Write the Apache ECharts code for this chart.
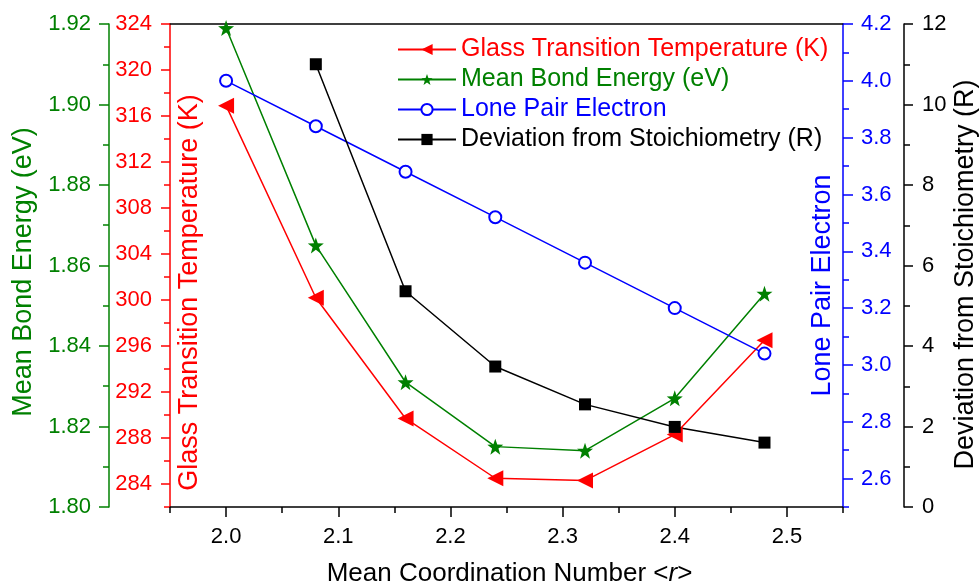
<!DOCTYPE html>
<html>
<head>
<meta charset="utf-8">
<title>Mean Coordination Number</title>
<script src="https://cdn.jsdelivr.net/npm/echarts@6/dist/echarts.min.js"></script>
<style>
  html, body { margin: 0; padding: 0; background: #fff; }
  #chart { width: 980px; height: 586px; }
</style>
</head>
<body>
<div id="chart"></div>
<script>
// data
var coordNum   = [2.00, 2.08, 2.16, 2.24, 2.32, 2.40, 2.48];
var tgValues   = [316.9, 300.2, 289.7, 284.5, 284.3, 288.3, 296.5];
var bondEnergy = [1.919, 1.865, 1.831, 1.815, 1.814, 1.827, 1.853];
var lonePair   = [4.00, 3.84, 3.68, 3.52, 3.36, 3.20, 3.04];
var deviation  = [null, 11.0, 5.36, 3.49, 2.55, 1.99, 1.60];

// tick positions
var xMajor   = [2.0, 2.1, 2.2, 2.3, 2.4, 2.5];
var xMinor   = [1.95, 2.05, 2.15, 2.25, 2.35, 2.45, 2.55];
var tgMajor  = [284, 288, 292, 296, 300, 304, 308, 312, 316, 320, 324];
var tgMinor  = [282, 286, 290, 294, 298, 302, 306, 310, 314, 318, 322];
var lpMajor  = [2.6, 2.8, 3.0, 3.2, 3.4, 3.6, 3.8, 4.0, 4.2];
var lpMinor  = [2.5, 2.7, 2.9, 3.1, 3.3, 3.5, 3.7, 3.9, 4.1];

var FONT = '"Liberation Sans", Arial, sans-serif';
var RED = '#ff0000', GREEN = '#008000', BLUE = '#0000ff', BLACK = '#000000';
var STAR = 'path://M0,-10L2.35,-3.24L9.51,-3.09L3.8,1.24L5.88,8.09L0,4L-5.88,8.09L-3.8,1.24L-9.51,-3.09L-2.35,-3.24Z';
var TICK_FS = 22, NAME_FS = 27;

function pairs(ys) {
    var out = [];
    for (var i = 0; i < coordNum.length; i++) {
        if (ys[i] !== null) out.push([coordNum[i], ys[i]]);
    }
    return out;
}

var chart = echarts.init(document.getElementById('chart'), null, { renderer: 'canvas' });

var option = {
    animation: false,
    backgroundColor: '#fff',
    grid: { left: 170, right: 137, top: 24, bottom: 79, containLabel: false, outerBoundsMode: 'none' },
    legend: {
        orient: 'vertical',
        left: 392, top: 32,
        itemWidth: 58, itemHeight: 14, itemGap: 5,
        textStyle: { fontFamily: FONT, fontSize: 25 },
        data: [
            { name: 'Glass Transition Temperature (K)', textStyle: { color: RED } },
            { name: 'Mean Bond Energy (eV)', textStyle: { color: GREEN } },
            { name: 'Lone Pair Electron', textStyle: { color: BLUE } },
            { name: 'Deviation from Stoichiometry (R)', textStyle: { color: BLACK } }
        ]
    },
    xAxis: [
        {
            type: 'value', position: 'bottom', min: 1.95, max: 2.55,
            name: 'Mean Coordination Number <{i|r}>',
            nameLocation: 'middle', nameGap: 54, nameMoveOverlap: false,
            nameTextStyle: { fontFamily: FONT, fontSize: 26, color: BLACK, padding: [0, 0, 0, 6],
                rich: { i: { fontFamily: FONT, fontSize: 26, fontStyle: 'italic', color: BLACK } } },
            axisLine: { onZero: false, lineStyle: { color: BLACK, width: 1.5 } },
            axisTick: { customValues: xMajor, length: 10, lineStyle: { color: BLACK, width: 1.5 } },
            axisLabel: { customValues: xMajor, margin: 19, fontFamily: FONT, fontSize: TICK_FS, color: BLACK,
                formatter: function (v) { return v.toFixed(1); } },
            splitLine: { show: false }
        },
        {
            type: 'value', position: 'bottom', min: 1.95, max: 2.55,
            axisLine: { show: false, onZero: false },
            axisTick: { customValues: xMinor, length: 6, lineStyle: { color: BLACK, width: 1.5 } },
            axisLabel: { show: false },
            splitLine: { show: false }
        },
        {
            type: 'value', position: 'top', min: 1.95, max: 2.55,
            axisLine: { onZero: false, lineStyle: { color: BLACK, width: 1.5 } },
            axisTick: { show: false }, axisLabel: { show: false },
            splitLine: { show: false }
        }
    ],
    yAxis: [
        {   // 0 mean bond energy
            type: 'value', position: 'left', offset: 61,
            min: 1.80, max: 1.92, interval: 0.02,
            name: 'Mean Bond Energy (eV)', nameLocation: 'middle', nameRotate: 90, nameGap: 72,
            nameMoveOverlap: false,
            nameTextStyle: { fontFamily: FONT, fontSize: NAME_FS, color: GREEN, padding: [0, 13, 0, 0] },
            axisLine: { onZero: false, lineStyle: { color: GREEN, width: 1.5 } },
            axisTick: { length: 10, lineStyle: { color: GREEN, width: 1.5 } },
            minorTick: { show: true, splitNumber: 2, length: 6, lineStyle: { color: GREEN, width: 1.5 } },
            axisLabel: { margin: 18, fontFamily: FONT, fontSize: TICK_FS, color: GREEN,
                formatter: function (v) { return v.toFixed(2); } },
            splitLine: { show: false }
        },
        {   // 1 glass transition temperature
            type: 'value', position: 'left', offset: 0, min: 282, max: 324,
            name: 'Glass Transition Temperature (K)', nameLocation: 'middle', nameRotate: 90, nameGap: -33,
            nameMoveOverlap: false,
            nameTextStyle: { fontFamily: FONT, fontSize: NAME_FS, color: RED, padding: [0, 54, 0, 0] },
            axisLine: { onZero: false, lineStyle: { color: RED, width: 1.5 } },
            axisTick: { customValues: tgMajor, length: 9, lineStyle: { color: RED, width: 1.5 } },
            axisLabel: { customValues: tgMajor, margin: 18, fontFamily: FONT, fontSize: TICK_FS, color: RED },
            splitLine: { show: false }
        },
        {   // 2 tg minor ticks
            type: 'value', position: 'left', offset: 0, min: 282, max: 324,
            axisLine: { show: false, onZero: false },
            axisTick: { customValues: tgMinor, length: 6, lineStyle: { color: RED, width: 1.5 } },
            axisLabel: { show: false }, splitLine: { show: false }
        },
        {   // 3 lone pair electron
            type: 'value', position: 'right', offset: 0, min: 2.5, max: 4.2,
            name: 'Lone Pair Electron', nameLocation: 'middle', nameRotate: 90, nameGap: -34,
            nameMoveOverlap: false,
            nameTextStyle: { fontFamily: FONT, fontSize: NAME_FS, color: BLUE, padding: [0, 40, 0, 0] },
            axisLine: { onZero: false, lineStyle: { color: BLUE, width: 1.5 } },
            axisTick: { customValues: lpMajor, length: 10, lineStyle: { color: BLUE, width: 1.5 } },
            axisLabel: { customValues: lpMajor, margin: 18, fontFamily: FONT, fontSize: TICK_FS, color: BLUE,
                formatter: function (v) { return v.toFixed(1); } },
            splitLine: { show: false }
        },
        {   // 4 lone pair minor ticks
            type: 'value', position: 'right', offset: 0, min: 2.5, max: 4.2,
            axisLine: { show: false, onZero: false },
            axisTick: { customValues: lpMinor, length: 6, lineStyle: { color: BLUE, width: 1.5 } },
            axisLabel: { show: false }, splitLine: { show: false }
        },
        {   // 5 deviation from stoichiometry
            type: 'value', position: 'right', offset: 61, min: 0, max: 12, interval: 2,
            name: 'Deviation from Stoichiometry (R)', nameLocation: 'middle', nameRotate: 90, nameGap: 48,
            nameMoveOverlap: false,
            nameTextStyle: { fontFamily: FONT, fontSize: NAME_FS, color: BLACK, padding: [0, 18, 0, 0] },
            axisLine: { onZero: false, lineStyle: { color: BLACK, width: 1.5 } },
            axisTick: { length: 9, lineStyle: { color: BLACK, width: 1.5 } },
            minorTick: { show: true, splitNumber: 2, length: 6, lineStyle: { color: BLACK, width: 1.5 } },
            axisLabel: { margin: 18, fontFamily: FONT, fontSize: TICK_FS, color: BLACK },
            splitLine: { show: false }
        }
    ],
    series: [
        {
            name: 'Glass Transition Temperature (K)', type: 'line', yAxisIndex: 1,
            data: pairs(tgValues),
            symbol: 'triangle', symbolRotate: 90, symbolSize: 16,
            lineStyle: { color: RED, width: 1.5 }, itemStyle: { color: RED }
        },
        {
            name: 'Mean Bond Energy (eV)', type: 'line', yAxisIndex: 0,
            data: pairs(bondEnergy),
            symbol: STAR, symbolSize: 16,
            lineStyle: { color: GREEN, width: 1.5 }, itemStyle: { color: GREEN }
        },
        {
            name: 'Lone Pair Electron', type: 'line', yAxisIndex: 3,
            data: pairs(lonePair),
            symbol: 'emptyCircle', symbolSize: 12,
            lineStyle: { color: BLUE, width: 1.5 }, itemStyle: { color: BLUE, borderWidth: 1.5 }
        },
        {
            name: 'Deviation from Stoichiometry (R)', type: 'line', yAxisIndex: 5,
            data: pairs(deviation),
            symbol: 'rect', symbolSize: 12,
            lineStyle: { color: BLACK, width: 1.5 }, itemStyle: { color: BLACK }
        }
    ]
};

chart.setOption(option);
</script>
</body>
</html>
